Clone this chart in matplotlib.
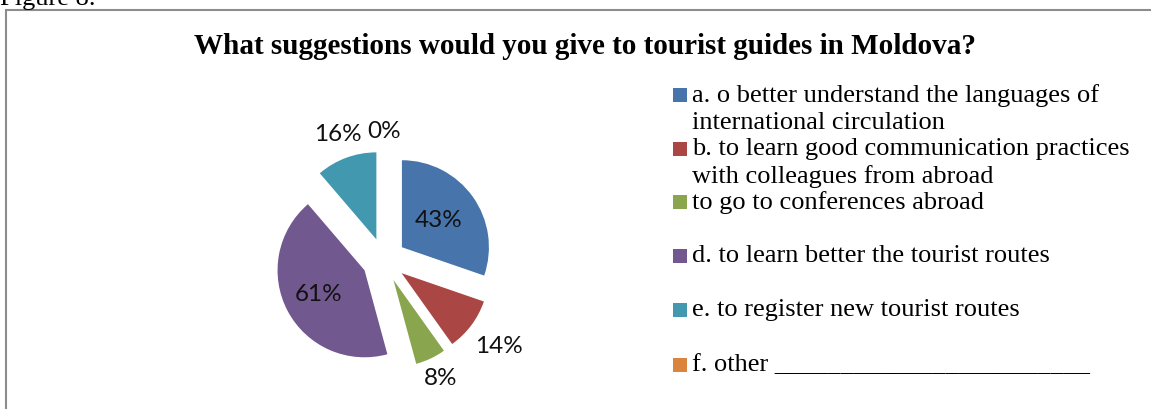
import matplotlib.pyplot as plt
import numpy as np
from matplotlib.patches import Rectangle

# Survey answers (share of respondents, multiple choice)
labels = [
    "a. o better understand the languages of\ninternational circulation",
    "b. to learn good communication practices\nwith colleagues from abroad",
    "to go to conferences abroad",
    "d. to learn better the tourist routes",
    "e. to register new tourist routes",
    "f. other ________________________",
]
values = [43, 14, 8, 61, 16, 0]
colors = ["#4674AB", "#AA4643", "#89A54E", "#71588F", "#4198AF", "#DB843D"]

# how far each percentage sits from its wedge centre (in radii)
label_dist = [0.52, 1.40, 1.26, 0.60, 1.28, 1.22]

W, H = 1151, 409
fig = plt.figure(figsize=(W / 100, H / 100), dpi=100)

# grey frame around the chart area
fig.add_artist(Rectangle((6 / W, -0.1), 2, 1.1 - 10 / H, transform=fig.transFigure,
                         fill=False, edgecolor="#8c8c8c", linewidth=1.5))
fig.text(0, 1 - 5 / H, "Figure 8.", family="Liberation Serif", fontsize=19,
         va="baseline", ha="left")

fig.text(585 / W, 1 - 47 / H, "What suggestions would you give to tourist guides in Moldova?",
         family="Liberation Serif", fontweight="bold", fontsize=21,
         ha="center", va="center")

# pie axes: centre at (384, 260) px, radius 87 px
R = 87
cx, cy = 384, H - 260
span = 1.6 * R
ax = fig.add_axes([(cx - span) / W, (cy - span) / H, 2 * span / W, 2 * span / H])
wedges, _ = ax.pie(values, colors=colors, startangle=90, counterclock=False,
                   explode=[22 / R] * len(values), radius=1,
                   wedgeprops=dict(linewidth=0))
ax.set_xlim(-1.6, 1.6)
ax.set_ylim(-1.6, 1.6)
ax.set_aspect("equal")
ax.axis("off")

for w, v, d in zip(wedges, values, label_dist):
    mid = np.deg2rad((w.theta1 + w.theta2) / 2)
    x0, y0 = w.center
    ax.text(x0 + d * np.cos(mid), y0 + d * np.sin(mid), f"{v}%",
            family="Lato", fontsize=17.5, ha="center", va="center", color="#111111")

# legend drawn by hand so markers line up with the first text line
row_y = [95, 149, 202, 256, 310, 365]
for lab, col, y in zip(labels, colors, row_y):
    fig.add_artist(Rectangle((673 / W, 1 - (y + 7) / H), 14 / W, 14 / H,
                             transform=fig.transFigure, facecolor=col, edgecolor="none"))
    fig.text(692 / W, 1 - (y - 11) / H, lab, family="Liberation Serif", fontsize=19,
             ha="left", va="top", linespacing=1.3)

fig.savefig("out.png", dpi=100)
